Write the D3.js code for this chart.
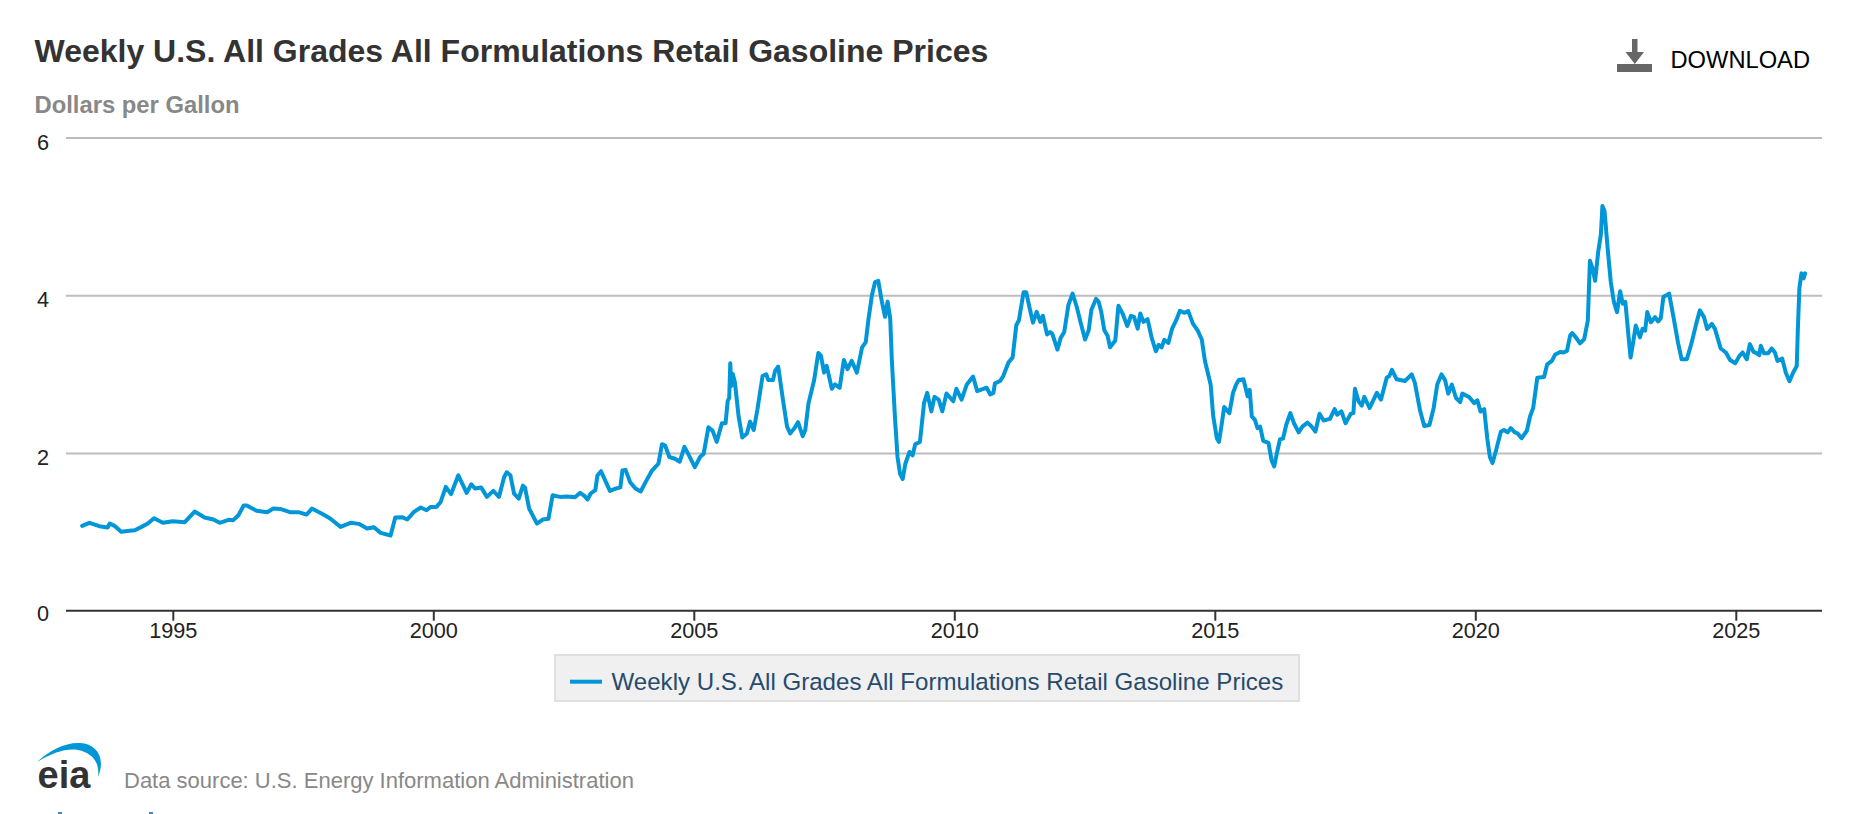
<!DOCTYPE html>
<html>
<head>
<meta charset="utf-8">
<script src="https://cdn.jsdelivr.net/npm/d3@7"></script>
<style>
	body { margin: 0; background: #fff; font-family: "Liberation Sans", Arial, sans-serif; }
	svg { display: block; }
</style>
</head>
<body>
<svg id="chart" width="1852" height="814"></svg>
<script>
const title = "Weekly U.S. All Grades All Formulations Retail Gasoline Prices";
const subtitle = "Dollars per Gallon";
const source = "Data source: U.S. Energy Information Administration";
const yTicks = [0, 2, 4, 6];
const xTicks = [1995, 2000, 2005, 2010, 2015, 2020, 2025];

// decimal year and dollars per gallon
const years = [
	1993.26,1993.40,1993.59,1993.75,1993.79,1993.88,1994.01,1994.17,1994.27,1994.40,1994.52,1994.64,1994.81,1995.00,1995.23,1995.42,
	1995.61,1995.78,1995.90,1996.07,1996.16,1996.26,1996.36,1996.42,1996.61,1996.81,1996.93,1997.06,1997.25,1997.41,1997.57,1997.67,
	1997.89,1998.02,1998.22,1998.41,1998.57,1998.73,1998.86,1998.99,1999.18,1999.27,1999.40,1999.50,1999.63,1999.76,1999.87,1999.95,
	2000.06,2000.14,2000.24,2000.34,2000.48,2000.64,2000.73,2000.80,2000.92,2001.03,2001.15,2001.26,2001.36,2001.41,2001.48,2001.55,
	2001.64,2001.72,2001.76,2001.84,2001.99,2002.10,2002.21,2002.29,2002.43,2002.56,2002.72,2002.82,2002.90,2002.96,2003.02,2003.11,
	2003.15,2003.22,2003.30,2003.39,2003.49,2003.59,2003.63,2003.69,2003.78,2003.88,2003.98,2004.09,2004.19,2004.32,2004.39,2004.45,
	2004.53,2004.64,2004.73,2004.82,2004.89,2005.02,2005.12,2005.19,2005.28,2005.36,2005.44,2005.54,2005.61,2005.65,2005.68,2005.70,
	2005.72,2005.75,2005.79,2005.86,2005.93,2006.02,2006.08,2006.15,2006.22,2006.32,2006.39,2006.43,2006.52,2006.56,2006.62,2006.71,
	2006.79,2006.85,2006.93,2007.00,2007.09,2007.14,2007.20,2007.31,2007.39,2007.44,2007.50,2007.55,2007.65,2007.71,2007.80,2007.88,
	2007.95,2008.03,2008.13,2008.23,2008.30,2008.35,2008.42,2008.48,2008.54,2008.61,2008.67,2008.72,2008.77,2008.80,2008.86,2008.91,
	2008.96,2009.01,2009.06,2009.14,2009.20,2009.25,2009.34,2009.42,2009.48,2009.56,2009.62,2009.70,2009.77,2009.85,2009.98,2010.04,
	2010.14,2010.24,2010.36,2010.44,2010.62,2010.69,2010.75,2010.78,2010.88,2010.94,2011.04,2011.12,2011.19,2011.24,2011.33,2011.38,
	2011.44,2011.51,2011.58,2011.65,2011.70,2011.78,2011.84,2011.88,2011.98,2012.04,2012.11,2012.19,2012.27,2012.35,2012.43,2012.51,
	2012.58,2012.63,2012.72,2012.77,2012.82,2012.88,2012.94,2012.99,2013.09,2013.15,2013.23,2013.32,2013.39,2013.45,2013.52,2013.57,
	2013.63,2013.71,2013.79,2013.87,2013.92,2013.98,2014.03,2014.11,2014.18,2014.26,2014.33,2014.41,2014.49,2014.58,2014.67,2014.75,
	2014.81,2014.92,2014.97,2015.04,2015.08,2015.13,2015.18,2015.28,2015.35,2015.41,2015.46,2015.55,2015.63,2015.67,2015.71,2015.77,
	2015.82,2015.87,2015.93,2016.03,2016.09,2016.14,2016.19,2016.25,2016.31,2016.37,2016.45,2016.52,2016.61,2016.68,2016.78,2016.86,
	2016.93,2017.01,2017.09,2017.21,2017.30,2017.35,2017.43,2017.51,2017.61,2017.66,2017.69,2017.76,2017.82,2017.87,2017.97,2018.11,
	2018.19,2018.30,2018.35,2018.40,2018.49,2018.65,2018.78,2018.84,2018.94,2019.02,2019.12,2019.20,2019.27,2019.35,2019.42,2019.48,
	2019.55,2019.63,2019.71,2019.75,2019.88,2019.98,2020.04,2020.10,2020.17,2020.23,2020.28,2020.33,2020.39,2020.49,2020.55,2020.62,
	2020.68,2020.76,2020.81,2020.89,2020.99,2021.05,2021.11,2021.19,2021.32,2021.38,2021.47,2021.53,2021.63,2021.69,2021.76,2021.82,
	2021.86,2021.93,2022.01,2022.09,2022.16,2022.20,2022.25,2022.30,2022.36,2022.41,2022.44,2022.48,2022.54,2022.60,2022.66,2022.72,
	2022.78,2022.83,2022.88,2022.94,2022.98,2023.03,2023.08,2023.16,2023.21,2023.26,2023.30,2023.37,2023.45,2023.51,2023.56,2023.61,
	2023.67,2023.72,2023.81,2023.89,2023.96,2024.06,2024.15,2024.24,2024.31,2024.39,2024.45,2024.54,2024.60,2024.71,2024.81,2024.89,
	2024.99,2025.07,2025.13,2025.21,2025.27,2025.34,2025.40,2025.45,2025.48,2025.54,2025.62,2025.69,2025.75,2025.80,2025.89,2025.96,
	2026.03,2026.10,2026.17,2026.19,2026.22,2026.26,2026.30,2026.33
];
const prices = [
	1.076,1.114,1.072,1.055,1.105,1.076,1.000,1.013,1.020,1.063,1.105,1.173,1.114,1.135,1.122,1.257,
	1.181,1.156,1.114,1.152,1.148,1.211,1.333,1.333,1.266,1.249,1.295,1.291,1.249,1.249,1.219,1.295,
	1.219,1.169,1.063,1.114,1.101,1.042,1.059,0.987,0.954,1.181,1.186,1.156,1.253,1.308,1.274,1.316,
	1.316,1.376,1.570,1.477,1.717,1.494,1.603,1.549,1.561,1.443,1.519,1.443,1.696,1.755,1.717,1.485,
	1.422,1.586,1.561,1.295,1.105,1.156,1.165,1.464,1.443,1.448,1.439,1.495,1.456,1.409,1.486,1.529,
	1.713,1.769,1.649,1.520,1.546,1.563,1.777,1.786,1.627,1.550,1.512,1.649,1.769,1.863,2.111,2.094,
	1.949,1.927,1.889,2.077,1.991,1.820,1.949,1.991,2.325,2.283,2.141,2.377,2.377,2.655,2.700,3.139,
	2.848,3.000,2.891,2.463,2.197,2.248,2.398,2.291,2.548,2.976,2.998,2.925,2.925,3.041,3.096,2.677,
	2.334,2.248,2.313,2.390,2.214,2.291,2.625,2.925,3.268,3.233,3.019,3.105,2.814,2.869,2.827,3.178,
	3.062,3.169,3.019,3.340,3.405,3.683,4.004,4.167,4.184,3.919,3.726,3.919,3.704,3.191,2.463,1.949,
	1.734,1.670,1.863,2.013,1.970,2.111,2.141,2.634,2.762,2.527,2.711,2.677,2.527,2.754,2.655,2.814,
	2.677,2.869,2.968,2.784,2.827,2.741,2.762,2.882,2.912,2.976,3.148,3.212,3.619,3.683,4.039,4.039,
	3.854,3.653,3.790,3.662,3.739,3.503,3.533,3.512,3.310,3.456,3.533,3.876,4.021,3.854,3.640,3.439,
	3.555,3.812,3.953,3.919,3.790,3.555,3.490,3.340,3.426,3.867,3.769,3.610,3.739,3.726,3.576,3.769,
	3.662,3.696,3.456,3.289,3.370,3.340,3.435,3.396,3.576,3.683,3.803,3.777,3.799,3.640,3.555,3.439,
	3.169,2.869,2.463,2.184,2.141,2.355,2.582,2.505,2.762,2.869,2.925,2.934,2.719,2.800,2.463,2.420,
	2.313,2.334,2.154,2.128,1.906,1.829,1.991,2.171,2.184,2.355,2.505,2.377,2.262,2.334,2.385,2.334,
	2.270,2.497,2.411,2.432,2.557,2.484,2.527,2.377,2.497,2.505,2.814,2.655,2.600,2.711,2.570,2.762,
	2.677,2.955,2.976,3.054,2.934,2.912,2.996,2.889,2.538,2.342,2.355,2.568,2.868,2.996,2.923,2.752,
	2.868,2.697,2.645,2.752,2.709,2.632,2.667,2.526,2.556,2.184,1.949,1.872,2.013,2.269,2.291,2.261,
	2.316,2.261,2.248,2.188,2.282,2.462,2.568,2.953,2.962,3.124,3.167,3.244,3.282,3.274,3.295,3.487,
	3.521,3.466,3.389,3.444,3.679,4.436,4.342,4.184,4.556,4.769,5.132,5.068,4.598,4.171,3.915,3.786,
	4.051,3.893,3.915,3.487,3.209,3.402,3.615,3.466,3.573,3.551,3.786,3.658,3.722,3.667,3.709,3.979,
	4.000,4.021,3.701,3.402,3.188,3.188,3.393,3.637,3.808,3.722,3.573,3.637,3.573,3.325,3.274,3.179,
	3.137,3.231,3.274,3.188,3.380,3.282,3.265,3.240,3.359,3.265,3.265,3.325,3.274,3.167,3.197,3.017,
	2.910,3.017,3.103,3.550,4.085,4.278,4.214,4.278
];

const svg = d3.select("#chart");

var x = d3.scaleLinear().domain([1995, 2025]).range([172.8, 1735.8]);
var y = d3.scaleLinear().domain([0, 6]).range([610.7, 137.5]);
const plot_left = 66, plot_right = 1822;

svg.append("text").attr("x", 34.5).attr("y", 61.5)
	.style("font-size", "32px").style("font-weight", "bold").style("fill", "#333")
	.text(title);
svg.append("text").attr("x", 34.5).attr("y", 112.5)
	.style("font-size", "23.8px").style("font-weight", "bold").style("fill", "#888")
	.text(subtitle);

// download button
svg.append("path")
	.attr("d", "M1632,39h5.5v13h6.5l-9.2,12l-9.3,-12h6.5z")
	.style("fill", "#666");
svg.append("rect").attr("x", 1617).attr("y", 64).attr("width", 35).attr("height", 8).style("fill", "#666");
svg.append("text").attr("x", 1670.5).attr("y", 68)
	.style("font-size", "23.7px").style("fill", "#000")
	.text("DOWNLOAD");

// grid and y labels
var y_axis = svg.append("g")
	.attr("transform", "translate(" + plot_left + ",0)")
	.call(d3.axisLeft(y).tickValues(yTicks.filter(d => d > 0)).tickSize(plot_left - plot_right).tickFormat(""));
y_axis.select(".domain").remove();
y_axis.selectAll("line").style("stroke", "#bdbdbd").style("stroke-width", 2);

svg.selectAll(".ylabel").data(yTicks).enter().append("text")
	.attr("class", "ylabel")
	.attr("x", 43).attr("y", d => y(d) + (d == 0 ? 10 : 12))
	.attr("text-anchor", "middle")
	.style("font-size", "21.7px").style("fill", "#222")
	.text(d => d);

// x axis
var x_axis = svg.append("g")
	.attr("transform", "translate(0," + y(0) + ")")
	.call(d3.axisBottom(x).tickValues(xTicks).tickSize(10).tickPadding(2).tickFormat(d3.format("d")));
x_axis.select(".domain").attr("d", "M" + plot_left + ",0H" + plot_right)
	.style("stroke", "#333").style("stroke-width", 2);
x_axis.selectAll("line").style("stroke", "#333").style("stroke-width", 2);
x_axis.selectAll("text")
	.style("font-family", "Liberation Sans").style("font-size", "21.7px").style("fill", "#222");

var line = d3.line().x(d => x(d[0])).y(d => y(d[1]));
svg.append("path")
	.attr("d", line(d3.zip(years, prices)))
	.style("fill", "none").style("stroke", "#0096d7").style("stroke-width", 4)
	.style("stroke-linejoin", "round").style("stroke-linecap", "round");

// legend
svg.append("rect").attr("x", 555).attr("y", 655).attr("width", 744).attr("height", 46)
	.style("fill", "#f0f0f0").style("stroke", "#e0e0e0").style("stroke-width", 2);
svg.append("line").attr("x1", 570).attr("x2", 602).attr("y1", 681.7).attr("y2", 681.7)
	.style("stroke", "#0096d7").style("stroke-width", 4);
svg.append("text").attr("x", 611.5).attr("y", 690)
	.style("font-size", "24.1px").style("fill", "#274b6d")
	.text(title);

// eia logo
svg.append("path")
	.attr("d", "M37,762C50,750 66,742 80,743C97,744 106,758 98,777C100,762 92,753 78,750C66,748 52,753 37,762z")
	.style("fill", "#0096d7");
svg.append("text").attr("x", 37.5).attr("y", 788)
	.style("font-size", "38px").style("font-weight", "bold").style("fill", "#333")
	.text("eia");

svg.append("text").attr("x", 124).attr("y", 787.5)
	.style("font-size", "22px").style("fill", "#888")
	.text(source);

// tops of the next page line, cut off by the window
svg.append("rect").attr("x", 58).attr("y", 812).attr("width", 4).attr("height", 2).style("fill", "#4a86b8");
svg.append("rect").attr("x", 149).attr("y", 812).attr("width", 4).attr("height", 2).style("fill", "#4a86b8");
</script>
</body>
</html>
